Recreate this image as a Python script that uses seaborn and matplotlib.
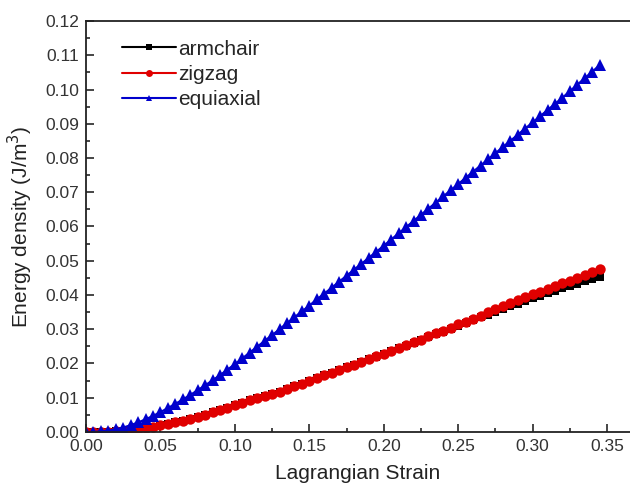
import numpy as np
import pandas as pd
import seaborn as sns
from matplotlib import pyplot as plt
from matplotlib.ticker import MultipleLocator

# strain steps (0.005 apart)
strain = [round(0.005 * i, 3) for i in range(70)]

equiaxial = [0.0000, 0.0000, 0.0002, 0.0004, 0.0008, 0.0013, 0.0020, 0.0028, 0.0037, 0.0047,
             0.0058, 0.0070, 0.0082, 0.0095, 0.0108, 0.0122, 0.0136, 0.0151, 0.0166, 0.0182,
             0.0198, 0.0215, 0.0232, 0.0249, 0.0266, 0.0283, 0.0300, 0.0318, 0.0335, 0.0352,
             0.0369, 0.0387, 0.0404, 0.0421, 0.0439, 0.0456, 0.0474, 0.0491, 0.0509, 0.0526,
             0.0544, 0.0562, 0.0580, 0.0598, 0.0616, 0.0634, 0.0652, 0.0670, 0.0688, 0.0706,
             0.0724, 0.0742, 0.0760, 0.0778, 0.0796, 0.0814, 0.0832, 0.0850, 0.0868, 0.0886,
             0.0904, 0.0922, 0.0940, 0.0958, 0.0976, 0.0995, 0.1014, 0.1033, 0.1052, 0.1071]

zigzag = [0.0000, 0.0000, 0.0000, 0.0001, 0.0002, 0.0004, 0.0006, 0.0009, 0.0012, 0.0016,
          0.0020, 0.0024, 0.0028, 0.0033, 0.0038, 0.0044, 0.0050, 0.0057, 0.0064, 0.0071,
          0.0080, 0.0086, 0.0092, 0.0099, 0.0105, 0.0112, 0.0118, 0.0126, 0.0133, 0.0141,
          0.0149, 0.0157, 0.0165, 0.0173, 0.0181, 0.0189, 0.0197, 0.0205, 0.0213, 0.0221,
          0.0229, 0.0237, 0.0245, 0.0254, 0.0262, 0.0270, 0.0279, 0.0288, 0.0296, 0.0305,
          0.0314, 0.0322, 0.0331, 0.0340, 0.0349, 0.0358, 0.0367, 0.0376, 0.0385, 0.0394,
          0.0402, 0.0410, 0.0418, 0.0426, 0.0434, 0.0442, 0.0451, 0.0459, 0.0467, 0.0475]

armchair = [0.0000, 0.0000, 0.0000, 0.0001, 0.0002, 0.0004, 0.0006, 0.0009, 0.0012, 0.0016,
            0.0020, 0.0024, 0.0028, 0.0033, 0.0038, 0.0044, 0.0050, 0.0057, 0.0064, 0.0071,
            0.0080, 0.0086, 0.0092, 0.0099, 0.0105, 0.0112, 0.0118, 0.0126, 0.0133, 0.0141,
            0.0149, 0.0157, 0.0165, 0.0173, 0.0181, 0.0189, 0.0197, 0.0205, 0.0212, 0.0220,
            0.0228, 0.0236, 0.0244, 0.0252, 0.0260, 0.0268, 0.0277, 0.0285, 0.0293, 0.0302,
            0.0310, 0.0318, 0.0327, 0.0335, 0.0343, 0.0351, 0.0359, 0.0367, 0.0375, 0.0383,
            0.0391, 0.0398, 0.0405, 0.0412, 0.0419, 0.0426, 0.0433, 0.0440, 0.0446, 0.0452]

sns.set_style("ticks")
plt.rcParams["font.family"] = ["Liberation Sans", "DejaVu Sans"]

fig = plt.figure(figsize=(6.3, 4.91), dpi=100)
ax = fig.add_axes([0.1365, 0.1202, 0.8635, 0.837])

sns.lineplot(x=strain, y=armchair, ax=ax, color="black", marker="s", markersize=6,
             markeredgewidth=0, linewidth=1.5, label="armchair")
sns.lineplot(x=strain, y=zigzag, ax=ax, color="#e00000", marker="o", markersize=7.5,
             markeredgewidth=0, linewidth=1.5, label="zigzag")
sns.lineplot(x=strain, y=equiaxial, ax=ax, color="#0000cc", marker="^", markersize=8.5,
             markeredgewidth=0, linewidth=1.5, label="equiaxial")

ax.set_xlim(0, 0.3654)
ax.set_ylim(0, 0.12)
ax.xaxis.set_major_locator(MultipleLocator(0.05))
ax.xaxis.set_minor_locator(MultipleLocator(0.025))
ax.yaxis.set_major_locator(MultipleLocator(0.01))
ax.yaxis.set_minor_locator(MultipleLocator(0.005))
ax.xaxis.set_major_formatter(lambda v, p: f"{v:.2f}")
ax.yaxis.set_major_formatter(lambda v, p: f"{v:.2f}")

ax.tick_params(which="major", direction="in", length=6, width=1.2, labelsize=12.5,
               labelcolor="#333333", pad=5)
ax.tick_params(which="minor", direction="in", length=3, width=1.2)
ax.spines["right"].set_visible(False)
for s in ["left", "bottom", "top"]:
    ax.spines[s].set_linewidth(1.3)
    ax.spines[s].set_color("#222222")

ax.set_xlabel("Lagrangian Strain", fontsize=15, color="#222222", labelpad=7)
ax.set_ylabel("Energy density (J/m$^3$)", fontsize=15, color="#222222", labelpad=7)

leg = ax.legend(loc="upper left", bbox_to_anchor=(0.05, 0.975), frameon=False, fontsize=15,
                handlelength=2.6, handletextpad=0.1, labelspacing=0.3, borderaxespad=0)
for h in leg.legend_handles:
    h.set_markersize(5)

fig.savefig("out.png", dpi=100)
